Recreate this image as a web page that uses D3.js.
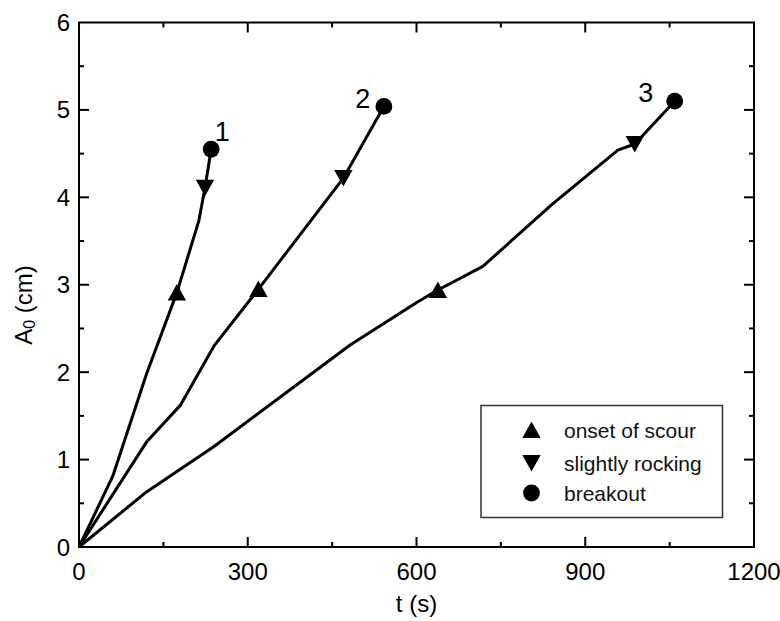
<!DOCTYPE html>
<html>
<head>
<meta charset="utf-8">
<script src="https://cdn.jsdelivr.net/npm/d3@7"></script>
<style>
  html, body { margin: 0; padding: 0; background: #fff; }
  svg { display: block; font-family: "Liberation Sans", Arial, sans-serif; }
</style>
</head>
<body>
<svg id="chart" width="780" height="621"></svg>
<script>
// Scour amplitude A0 versus time for three runs
const run1T = [0, 60, 120, 174, 213, 224, 235];
const run1A = [0, 0.81, 1.98, 2.91, 3.73, 4.11, 4.55];
const run2T = [0, 120, 180, 240, 319, 470, 542];
const run2A = [0, 1.2, 1.62, 2.3, 2.95, 4.22, 5.04];
const run3T = [0, 120, 240, 482, 601, 638, 718, 841, 958, 988, 1059];
const run3A = [0, 0.63, 1.15, 2.31, 2.8, 2.94, 3.21, 3.92, 4.54, 4.61, 5.1];

// index into each run of the event markers: onset of scour, slightly rocking, breakout
const scourIdx = [3, 4, 5];
const rockIdx = [5, 5, 9];
const breakIdx = [6, 6, 10];
const runLabels = ["1", "2", "3"];

const xTicks = [0, 300, 600, 900, 1200];
const yTicks = [0, 1, 2, 3, 4, 5, 6];
const legendLabels = ["onset of scour", "slightly rocking", "breakout"];

const svg = d3.select("#chart");
const x = d3.scaleLinear().domain([0, 1200]).range([79, 754]);
const y = d3.scaleLinear().domain([0, 6]).range([547, 22.5]);

const runs = [[run1T, run1A], [run2T, run2A], [run3T, run3A]].map(([t, a]) => t.map((v, i) => [v, a[i]]));

// frame
const frame = svg.append("g");
frame.append("rect")
  .attr("x", x(0)).attr("y", y(6))
  .attr("width", x(1200) - x(0)).attr("height", y(0) - y(6))
  .attr("fill", "none").attr("stroke", "#000").attr("stroke-width", 2);

const xMinor = d3.range(150, 1200, 300);
const yMinor = d3.range(0.5, 6, 1);
function ticks(g, axis, tickVals, len) {
  tickVals.forEach(v => {
    if (axis === "x") {
      g.append("line").attr("x1", x(v)).attr("x2", x(v)).attr("y1", y(0)).attr("y2", y(0) - len);
      g.append("line").attr("x1", x(v)).attr("x2", x(v)).attr("y1", y(6)).attr("y2", y(6) + len);
    } else {
      g.append("line").attr("y1", y(v)).attr("y2", y(v)).attr("x1", x(0)).attr("x2", x(0) + len);
      g.append("line").attr("y1", y(v)).attr("y2", y(v)).attr("x1", x(1200)).attr("x2", x(1200) - len);
    }
  });
}
const tg = frame.append("g").attr("stroke", "#000").attr("stroke-width", 2);
ticks(tg, "x", xTicks.slice(1, -1), 10);
ticks(tg, "x", xMinor, 5);
ticks(tg, "y", yTicks.slice(1, -1), 10);
ticks(tg, "y", yMinor, 5);

// tick labels
svg.append("g").selectAll("text").data(xTicks).join("text")
  .attr("x", d => x(d)).attr("y", 580)
  .attr("text-anchor", "middle").attr("font-size", 24).attr("fill", "#000")
  .text(d => d);
svg.append("g").selectAll("text").data(yTicks).join("text")
  .attr("x", 70).attr("y", d => y(d) + 8.5)
  .attr("text-anchor", "end").attr("font-size", 24).attr("fill", "#000")
  .text(d => d);

// axis titles
svg.append("text").attr("x", x(600)).attr("y", 612)
  .attr("text-anchor", "middle").attr("font-size", 24).text("t (s)");
const yl = svg.append("text")
  .attr("transform", "translate(32,305) rotate(-90)")
  .attr("text-anchor", "middle").attr("font-size", 24);
yl.append("tspan").text("A");
yl.append("tspan").attr("font-size", 16).attr("dy", 3).text("0");
yl.append("tspan").attr("dy", -3).text(" (cm)");

// curves
const line = d3.line().x(d => x(d[0])).y(d => y(d[1]));
svg.append("g").selectAll("path").data(runs).join("path")
  .attr("d", line).attr("fill", "none").attr("stroke", "#000")
  .attr("stroke-width", 3).attr("stroke-linejoin", "round");

// markers
const triUp = "M0,-8.5L9.2,8L-9.2,8Z";
const triDown = "M0,8.5L9.2,-8L-9.2,-8Z";
const mk = svg.append("g").attr("fill", "#000");
runs.forEach((r, i) => {
  const s = r[scourIdx[i]], k = r[rockIdx[i]], b = r[breakIdx[i]];
  mk.append("path").attr("d", triUp).attr("transform", `translate(${x(s[0])},${y(s[1])})`);
  mk.append("path").attr("d", triDown).attr("transform", `translate(${x(k[0])},${y(k[1])})`);
  mk.append("circle").attr("cx", x(b[0])).attr("cy", y(b[1])).attr("r", 8.4);
});

// run labels beside the breakout points
const labelOffsets = [[11, -8], [-21, 2], [-29, 1]];
runs.forEach((r, i) => {
  const b = r[breakIdx[i]];
  svg.append("text")
    .attr("x", x(b[0]) + labelOffsets[i][0]).attr("y", y(b[1]) + labelOffsets[i][1])
    .attr("font-size", 27).attr("text-anchor", "middle").text(runLabels[i]);
});

// legend
const lg = svg.append("g");
lg.append("rect").attr("x", 481).attr("y", 405.5).attr("width", 241.5).attr("height", 112)
  .attr("fill", "#fff").attr("stroke", "#333").attr("stroke-width", 1.5);
const rowsY = [430, 463, 493];
lg.append("path").attr("d", triUp).attr("transform", `translate(531.5,${rowsY[0]})`);
lg.append("path").attr("d", triDown).attr("transform", `translate(531.5,${rowsY[1]})`);
lg.append("circle").attr("cx", 531.5).attr("cy", rowsY[2]).attr("r", 8.4);
lg.selectAll("text").data(legendLabels).join("text")
  .attr("x", 564).attr("y", (d, i) => rowsY[i] + 7.5)
  .attr("font-size", 21).attr("fill", "#111").text(d => d);
</script>
</body>
</html>
